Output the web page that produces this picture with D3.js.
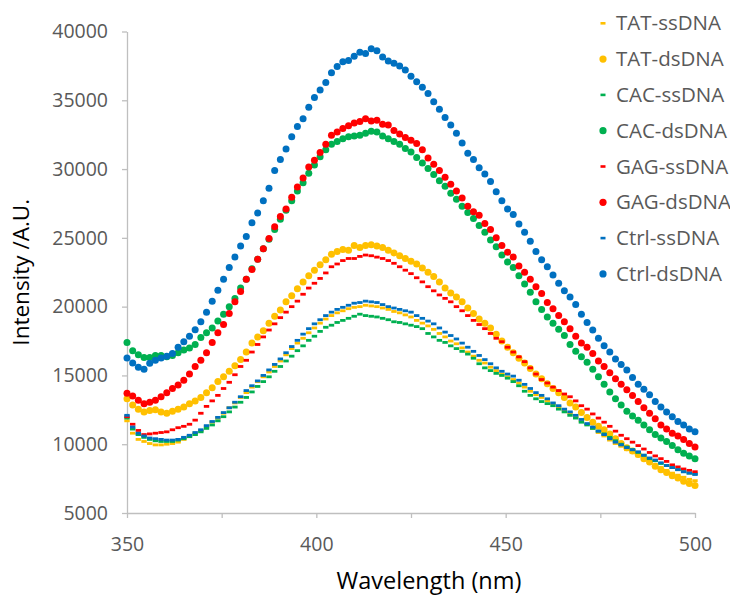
<!DOCTYPE html>
<html>
<head>
<meta charset="utf-8">
<script src="https://cdn.jsdelivr.net/npm/d3@7"></script>
<style>
  html, body { margin: 0; padding: 0; background: #fff; }
  svg { display: block; }
</style>
</head>
<body>
<svg id="chart" width="730" height="595"></svg>
<script>
// ---------------- DATA ----------------
const wavelengths = d3.range(0, 101).map(k => 350 + 1.5 * k); // 350..500 nm, 1.5 nm step

const seriesNames = ["TAT-ssDNA","TAT-dsDNA","CAC-ssDNA","CAC-dsDNA","GAG-ssDNA","GAG-dsDNA","Ctrl-ssDNA","Ctrl-dsDNA"];
const seriesColors = ["#FFC000","#FFC000","#00B050","#00B050","#FF0000","#FF0000","#0070C0","#0070C0"];
const seriesKinds = ["ss","ds","ss","ds","ss","ds","ss","ds"];

const yTicks = [5000,10000,15000,20000,25000,30000,35000,40000];
const xTickLabels = [350,400,450,500];
const xTicks = [350,375,400,425,450,475,500];

const tatSs = [
11700,10800,10350,10200,10050,9950,9950,10000,10050,10150,
10350,10550,10800,11000,11300,11600,11900,12250,12650,13000,
13400,13750,14150,14550,14900,15250,15650,16050,16500,16950,
17350,17700,18100,18450,18800,19100,19350,19550,19700,19850,
19950,20000,20100,20050,20000,19900,19800,19650,19550,19400,
19250,19000,18800,18600,18350,18050,17800,17500,17300,17000,
16700,16400,16100,15900,15600,15350,15100,14900,14700,14450,
14150,13850,13600,13400,13150,12950,12700,12500,12250,12000,
11700,11450,11150,10850,10600,10300,10050,9850,9600,9400,
9150,8950,8700,8500,8300,8100,7900,7750,7600,7450,
7350];

const tatDs = [
13300,12850,12550,12350,12450,12500,12350,12250,12400,12550,
12700,12950,13150,13400,13750,14100,14550,14900,15300,15700,
16150,16700,17350,17800,18250,18800,19300,19750,20350,20800,
21300,21800,22250,22650,23050,23400,23800,24000,24150,24100,
24450,24300,24450,24500,24400,24300,24100,23900,23700,23500,
23300,23100,22800,22500,22200,21800,21350,21000,20700,20350,
19900,19500,19100,18800,18450,18000,17500,17050,16650,16250,
15900,15500,15100,14750,14400,14050,13750,13400,13000,12700,
12300,11950,11600,11300,11050,10750,10400,10050,9750,9500,
9250,8950,8700,8400,8150,7950,7700,7550,7300,7150,
7000];

const cacSs = [
11900,11100,10700,10500,10350,10250,10200,10200,10200,10300,
10400,10550,10700,10900,11150,11400,11700,12000,12350,12700,
13050,13400,13800,14200,14550,14900,15300,15650,16050,16400,
16800,17150,17550,17850,18200,18500,18650,18850,19000,19150,
19300,19450,19350,19300,19250,19150,19050,18900,18850,18750,
18650,18550,18400,18050,17800,17550,17400,17150,16950,16750,
16550,16250,15850,15550,15350,15150,15000,14800,14550,14250,
13850,13550,13300,13100,12950,12800,12550,12350,12100,11900,
11600,11400,11150,10950,10750,10500,10250,10000,9800,9600,
9400,9200,8950,8800,8600,8450,8300,8150,8000,7900,
7850];

const cacDs = [
17400,16800,16500,16300,16300,16450,16450,16350,16450,16650,
16850,17000,17250,17750,18100,18450,18950,19450,20000,20600,
21350,22000,22750,23450,24200,24900,25600,26350,27000,27700,
28400,29000,29700,30300,30900,31400,31800,32000,32200,32350,
32400,32450,32600,32750,32700,32400,32200,32000,31800,31500,
31250,30850,30450,30050,29600,29150,28750,28250,27800,27300,
26850,26400,25900,25400,24850,24350,23750,23250,22850,22250,
21650,21050,20350,19800,19250,18800,18350,17900,17250,16750,
16350,15950,15450,14900,14350,13800,13300,12850,12400,12050,
11750,11400,11050,10700,10450,10200,9900,9600,9350,9150,
8950];

const gagSs = [
12000,11450,11000,10700,10750,10800,10850,10900,11050,11200,
11300,11450,11750,12250,12750,13150,13550,14050,14500,15050,
15650,16100,16700,17250,17800,18300,18750,19200,19600,20000,
20400,20900,21350,21700,22050,22450,22900,23100,23350,23500,
23500,23650,23750,23700,23600,23500,23350,23150,22900,22650,
22400,22100,21800,21450,21150,20850,20600,20350,20000,19700,
19350,19000,18700,18400,18050,17700,17450,17050,16700,16350,
16000,15550,15100,14700,14450,14150,13900,13650,13450,13150,
12800,12550,12200,11900,11600,11300,10950,10650,10400,10150,
9900,9650,9400,9150,8950,8750,8500,8350,8200,8100,
8000];

const gagDs = [
13700,13500,13200,12950,13050,13200,13450,13750,14050,14300,
14650,15100,15650,16100,16650,17400,18100,18700,19500,20350,
21100,22000,22700,23450,24200,24950,25800,26550,27100,27950,
28700,29350,30150,30650,31200,31800,32450,32700,32950,33150,
33350,33450,33650,33500,33550,33250,33200,32800,32550,32300,
32100,31850,31400,30800,30350,29900,29400,28900,28400,27900,
27300,26900,26650,26050,25600,25000,24450,23950,23600,22950,
22500,22000,21450,20950,20300,19850,19350,18900,18400,17850,
17350,17050,16600,16050,15650,15200,14750,14350,13950,13550,
13100,12650,12250,11850,11400,11100,10800,10600,10350,10050,
9800];

const ctrlSs = [
12100,11250,10800,10600,10450,10400,10350,10300,10300,10350,
10500,10650,10850,11050,11350,11650,11950,12300,12650,13050,
13450,13900,14250,14600,15000,15400,15800,16200,16650,17100,
17550,18000,18400,18750,19050,19350,19600,19800,19950,20100,
20250,20300,20400,20350,20300,20150,20000,19900,19800,19700,
19600,19350,19150,18950,18750,18450,18150,17900,17650,17350,
17050,16750,16450,16150,15850,15550,15300,15100,14950,14650,
14350,14050,13750,13550,13300,13000,12800,12550,12350,12100,
11800,11500,11250,10950,10700,10400,10150,9950,9750,9600,
9450,9200,9000,8850,8650,8450,8300,8150,8000,7900,
7800];

const ctrlDs = [
16260,15900,15600,15450,15890,16100,16260,16400,16600,17050,
17450,17850,18320,18900,19600,20400,21200,22000,22850,23600,
24400,25100,26100,26800,27700,28600,29900,30700,31450,32350,
33100,33650,34500,35200,35750,36300,37000,37450,37800,37900,
38200,38500,38400,38750,38600,38150,37850,37700,37500,37200,
36750,36350,35950,35500,34900,34350,33750,33200,32600,31900,
31150,30700,30100,29650,29100,28350,27700,27100,26700,26000,
25400,24750,24000,23400,22900,22300,21700,21150,20700,20150,
19450,18850,18300,17700,17150,16700,16200,15800,15400,14850,
14350,14000,13600,13100,12700,12350,12000,11650,11400,11100,
10900];

const seriesValues = [tatSs, tatDs, cacSs, cacDs, gagSs, gagDs, ctrlSs, ctrlDs];

// ---------------- CHART ----------------
const svg = d3.select("#chart");
const FONT = "'Open Sans', 'Liberation Sans', sans-serif";
const AXIS_GRAY = "#BFBFBF";
const TEXT_GRAY = "#595959";

const plot = { left: 127, right: 695, top: 31.5, bottom: 513 };

const x = d3.scaleLinear().domain([350, 500]).range([plot.left, plot.right]);
const y = d3.scaleLinear().domain([5000, 40000]).range([plot.bottom, plot.top]);

// Y axis
const yAxis = svg.append("g")
  .attr("transform", `translate(${plot.left},0)`)
  .call(d3.axisLeft(y).tickValues(yTicks).tickSize(5).tickPadding(14).tickSizeOuter(0).tickFormat(d3.format("d")));
yAxis.select(".domain").attr("stroke", AXIS_GRAY).attr("stroke-width", 1.3);
yAxis.selectAll(".tick line").attr("stroke", AXIS_GRAY).attr("stroke-width", 1.3);
yAxis.selectAll(".tick text").attr("fill", TEXT_GRAY).attr("font-family", FONT).attr("font-size", "19.5px");

// X axis
const xAxis = svg.append("g")
  .attr("transform", `translate(0,${plot.bottom})`)
  .call(d3.axisBottom(x).tickValues(xTicks).tickSize(5).tickPadding(19).tickSizeOuter(0)
    .tickFormat(d => xTickLabels.includes(d) ? String(d) : ""));
xAxis.select(".domain").attr("stroke", AXIS_GRAY).attr("stroke-width", 1.3);
xAxis.selectAll(".tick line").attr("stroke", AXIS_GRAY).attr("stroke-width", 1.3);
xAxis.selectAll(".tick text").attr("fill", TEXT_GRAY).attr("font-family", FONT).attr("font-size", "19.5px");

// Series
seriesNames.forEach((name, i) => {
  const pts = wavelengths.map((w, j) => ({ w, v: seriesValues[i][j] })).filter(d => d.v != null);
  const g = svg.append("g").attr("class", "series").attr("fill", seriesColors[i]);
  if (seriesKinds[i] === "ds") {
    g.selectAll("circle").data(pts).enter().append("circle")
      .attr("cx", d => x(d.w)).attr("cy", d => y(d.v)).attr("r", 3.5);
  } else {
    g.selectAll("rect").data(pts).enter().append("rect")
      .attr("x", d => x(d.w) - 2.7).attr("y", d => y(d.v) - 1.4)
      .attr("width", 5.4).attr("height", 2.8);
  }
});

// Axis titles
svg.append("text")
  .attr("x", 429).attr("y", 589)
  .attr("text-anchor", "middle").attr("font-family", FONT).attr("font-size", "23.5px").attr("fill", "#000")
  .text("Wavelength (nm)");
svg.append("text")
  .attr("transform", `translate(29,${(plot.top + plot.bottom) / 2}) rotate(-90)`)
  .attr("text-anchor", "middle").attr("font-family", FONT).attr("font-size", "22.5px").attr("fill", "#000")
  .text("Intensity /A.U.");

// Legend
const legend = svg.append("g");
seriesNames.forEach((name, i) => {
  const cy = 23.3 + i * 35.8;
  const row = legend.append("g");
  if (seriesKinds[i] === "ds") {
    row.append("circle").attr("cx", 603).attr("cy", cy).attr("r", 3.6).attr("fill", seriesColors[i]);
  } else {
    row.append("rect").attr("x", 600.5).attr("y", cy - 1.3).attr("width", 5).attr("height", 2.6).attr("fill", seriesColors[i]);
  }
  row.append("text").attr("x", 616).attr("y", cy).attr("dy", "0.35em")
    .attr("font-family", FONT).attr("font-size", "20.5px").attr("fill", TEXT_GRAY)
    .text(name);
});
</script>
</body>
</html>
